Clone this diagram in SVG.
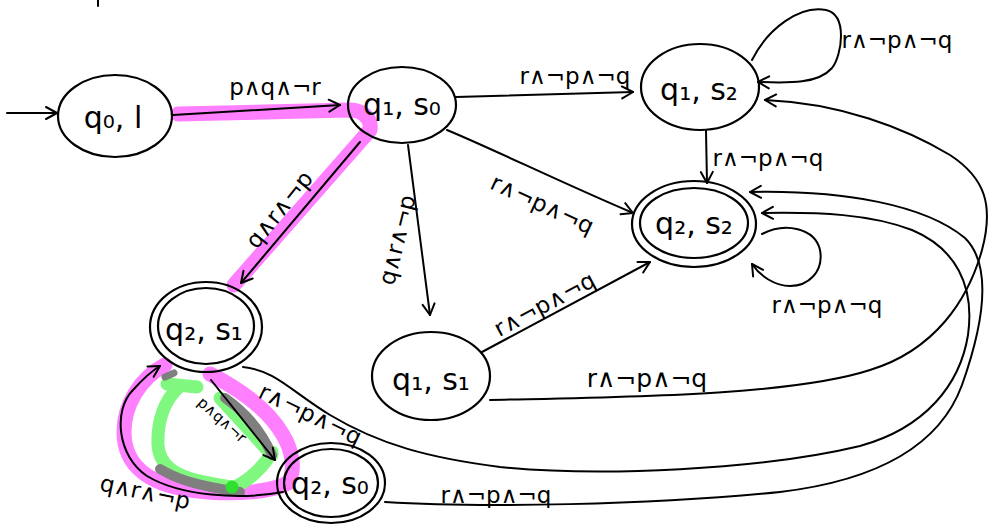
<svg xmlns="http://www.w3.org/2000/svg" width="989" height="531" viewBox="0 0 989 531">
  <style>
    .bg { fill: #ffffff; }
    .state { fill: none; stroke: #000; stroke-width: 2.2; }
    .edge { fill: none; stroke: #000; stroke-width: 2; stroke-linecap: round; stroke-linejoin: round; }
    .arrow { marker-end: url(#head); }
    .hl { fill: none; stroke-linecap: round; stroke-linejoin: round; }
    .pink { stroke: #ff80ff; stroke-width: 15; }
    .green { stroke: #80f880; stroke-width: 13; }
    .grey { stroke: #7f7f7f; stroke-width: 10; }
    .name { font-family: "DejaVu Sans", "Liberation Sans", sans-serif; font-size: 30px; fill: #000; text-anchor: middle; }
    .lbl { font-family: "DejaVu Sans", "Liberation Sans", sans-serif; font-size: 23px; fill: #000; text-anchor: middle; }
    .small { font-size: 15px; }
  </style>
  <defs>
    <marker id="head" markerUnits="userSpaceOnUse" markerWidth="16" markerHeight="16" viewBox="-13 -8 15 16" refX="0" refY="0" orient="auto" overflow="visible">
      <path d="M-11,-6 L0,0 L-11,6" fill="none" stroke="#000" stroke-width="2" stroke-linecap="round" stroke-linejoin="round"/>
    </marker>
  </defs>

  <rect class="bg" x="0" y="0" width="989" height="531"/>

  <!-- marker strokes over the accepting run -->
  <g id="highlights">
    <path class="hl pink" d="M178,114 L350,110 C362,110 372,118 370,130 L234,285"/>
    <path class="hl pink" d="M165,365 C140,378 124,405 124,432 C124,465 148,484 190,490 C235,496 270,492 288,483 C296,470 292,450 283,435 C270,412 245,392 210,374"/>
    <path class="hl green" d="M167,384 L197,387"/>
    <path class="hl green" d="M178,388 C165,400 157,420 158,445 C159,465 175,476 200,481 C215,484 225,487 235,487 C250,480 265,465 272,452"/>
    <path class="hl green" d="M220,398 L272,455"/>
    <path class="hl grey" d="M225,398 C245,412 262,432 272,455"/>
    <path class="hl grey" d="M160,469 C175,478 192,485 240,492"/>
    <path class="hl grey" d="M165,377 L174,373" style="stroke-width:7"/>
    <circle cx="232" cy="487" r="6.5" fill="#2fe02f"/>
  </g>

  <!-- transitions -->
  <g id="connectors">
    <path class="edge arrow" d="M7,113 L57,113"/>
    <path class="edge arrow" d="M173,115 L340,105"/>
    <path class="edge arrow" d="M360,142 L241,283"/>
    <path class="edge arrow" d="M456,97 C520,95 580,94 633,92"/>
    <path class="edge arrow" d="M752,60 C768,28 800,5 826,10 C848,15 842,55 832,68 C818,84 790,83 758,82"/>
    <path class="edge arrow" d="M706,131 L707,183"/>
    <path class="edge arrow" d="M447,130 C495,150 560,182 633,213"/>
    <path class="edge arrow" d="M408,145 L430,315"/>
    <path class="edge arrow" d="M482,352 L650,262"/>
    <path class="edge arrow" d="M762,234 C785,222 815,228 820,250 C824,272 808,286 790,286 C775,286 760,276 752,264"/>
    <path class="edge arrow" d="M490,400 C620,397 790,396 870,370 C935,350 968,300 982,250 C994,205 985,178 950,155 C905,128 840,103 765,100"/>
    <path class="edge arrow" d="M385,502 C480,508 650,505 780,492 C880,480 940,445 962,385 C985,320 992,265 965,238 C925,205 845,190 750,192"/>
    <path class="edge arrow" d="M243,367 C275,370 292,392 330,415 C380,445 430,458 500,467 C600,477 760,470 860,446 C925,428 960,385 968,335 C975,285 955,248 912,230 C870,214 820,212 762,213"/>
    <path class="edge arrow" d="M283,492 C240,500 180,496 147,476 C117,456 113,410 133,390 C142,380 150,372 160,366"/>
    <path class="edge arrow" d="M211,380 L275,460"/>
    <path class="edge" d="M98,0 L98,6"/>

    <text class="lbl" x="275" y="95">p∧q∧¬r</text>
    <text class="lbl" transform="translate(280,210) rotate(-51)" y="7">q∧r∧¬p</text>
    <text class="lbl" x="575" y="84">r∧¬p∧¬q</text>
    <text class="lbl" x="897" y="48">r∧¬p∧¬q</text>
    <text class="lbl" x="768" y="166">r∧¬p∧¬q</text>
    <text class="lbl" transform="translate(542,205) rotate(25)" y="7">r∧¬p∧¬q</text>
    <text class="lbl" transform="translate(398,240) rotate(-76)" y="7">q∧r∧¬p</text>
    <text class="lbl" transform="translate(545,305) rotate(-28)" y="7">r∧¬p∧¬q</text>
    <text class="lbl" x="827" y="313">r∧¬p∧¬q</text>
    <text class="lbl" x="647" y="387" style="font-size:25px">r∧¬p∧¬q</text>
    <text class="lbl" transform="translate(310,415) rotate(26)" y="7">r∧¬p∧¬q</text>
    <text class="lbl" x="496" y="503">r∧¬p∧¬q</text>
    <text class="lbl small" transform="translate(222,420) rotate(42)" y="5">p∧q∧¬r</text>
    <text class="lbl" transform="translate(145,493) rotate(12)" y="7">q∧r∧¬p</text>
  </g>

  <!-- states -->
  <g id="q0-l">
    <ellipse class="state" cx="115" cy="116" rx="57" ry="41"/>
    <text class="name" x="113" y="128">q₀, l</text>
  </g>
  <g id="q1-s0">
    <ellipse class="state" cx="402" cy="105" rx="54" ry="38"/>
    <text class="name" x="402" y="115">q₁, s₀</text>
  </g>
  <g id="q1-s2">
    <ellipse class="state" cx="700" cy="87" rx="59" ry="43"/>
    <text class="name" x="699" y="100">q₁, s₂</text>
  </g>
  <g id="q2-s2">
    <ellipse class="state" cx="694" cy="224" rx="62" ry="43"/>
    <ellipse class="state" cx="694" cy="223" rx="54" ry="35"/>
    <text class="name" x="694" y="234">q₂, s₂</text>
  </g>
  <g id="q2-s1">
    <ellipse class="state" cx="206" cy="327" rx="56" ry="45"/>
    <ellipse class="state" cx="206" cy="326" rx="48" ry="38"/>
    <text class="name" x="204" y="340">q₂, s₁</text>
  </g>
  <g id="q1-s1">
    <ellipse class="state" cx="431" cy="376" rx="59" ry="44"/>
    <text class="name" x="431" y="390">q₁, s₁</text>
  </g>
  <g id="q2-s0">
    <ellipse class="state" cx="331" cy="483" rx="54" ry="40"/>
    <ellipse class="state" cx="331" cy="483" rx="47" ry="34"/>
    <text class="name" x="330" y="494">q₂, s₀</text>
  </g>
</svg>
